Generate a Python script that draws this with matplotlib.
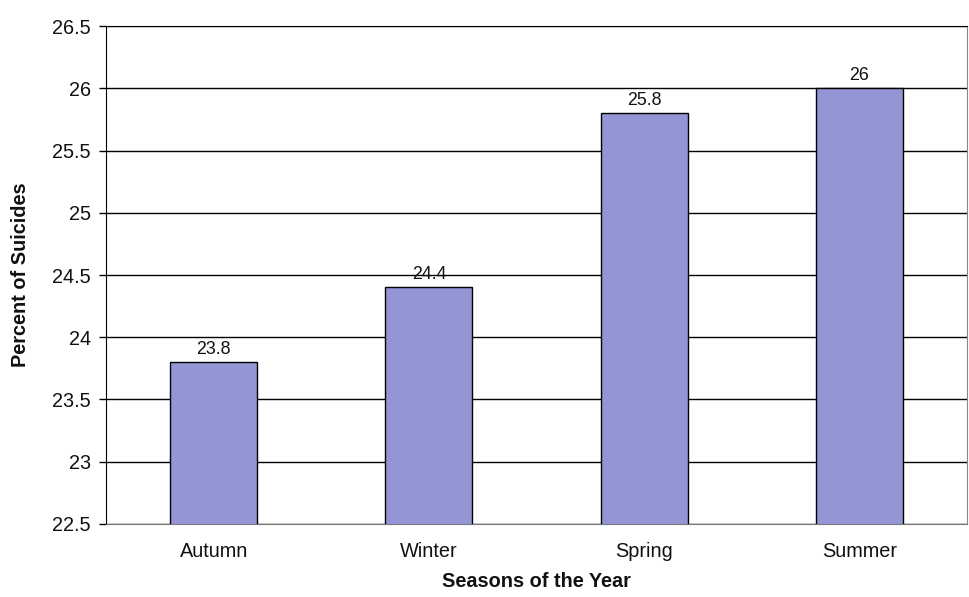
import matplotlib
matplotlib.use("Agg")
from matplotlib import pyplot as plt
import numpy as np

plt.rcParams['font.family'] = ['Liberation Sans', 'DejaVu Sans']

seasons = ["Autumn", "Winter", "Spring", "Summer"]
percent = [23.8, 24.4, 25.8, 26.0]
value_labels = ["23.8", "24.4", "25.8", "26"]
y_ticks = [22.5, 23, 23.5, 24, 24.5, 25, 25.5, 26, 26.5]
y_tick_labels = ["22.5", "23", "23.5", "24", "24.5", "25", "25.5", "26", "26.5"]

fig = plt.figure(figsize=(9.7, 5.97), dpi=100)
ax = fig.add_axes([0.1093, 0.1223, 0.8877, 0.8341])

x = np.arange(len(seasons))
ax.set_axisbelow(True)
ax.yaxis.grid(True, color="black", linewidth=1.0)
bars = ax.bar(x, percent, width=0.404, bottom=0, color="#9395d4",
              edgecolor="black", linewidth=1.0, zorder=3)

for xi, v, lab in zip(x, percent, value_labels):
    ax.text(xi, v + 0.035, lab, ha="center", va="bottom", fontsize=12.8, color="#111111")

ax.set_ylim(22.5, 26.5)
ax.set_xlim(-0.5, len(seasons) - 0.5)
ax.set_yticks(y_ticks)
ax.set_yticklabels(y_tick_labels, fontsize=14.3, color="#111111")
ax.set_xticks(x)
ax.set_xticklabels(seasons, fontsize=14.3, color="#111111")
ax.tick_params(axis="x", length=0, pad=13)
ax.tick_params(axis="y", length=5, width=1, pad=6)

for side in ["left", "top"]:
    ax.spines[side].set_color("black")
ax.spines["right"].set_color("#888888")
ax.spines["bottom"].set_color("#777777")

ax.set_xlabel("Seasons of the Year", fontsize=14.3, fontweight="bold", labelpad=8, color="#111111")
ax.set_ylabel("Percent of Suicides", fontsize=14.3, fontweight="bold", labelpad=16, color="#111111")

fig.savefig("out.png", dpi=100)
